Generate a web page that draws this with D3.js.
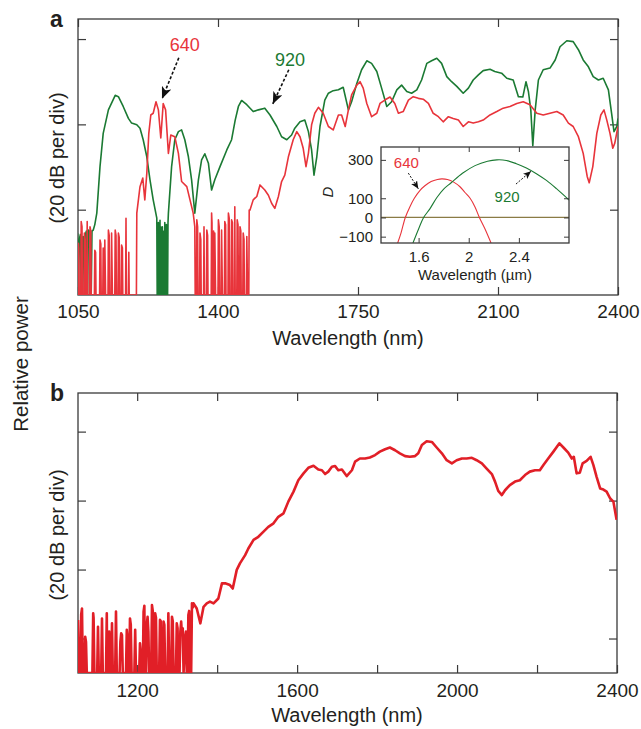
<!DOCTYPE html>
<html>
<head>
<meta charset="utf-8">
<script src="https://cdn.jsdelivr.net/npm/d3@7"></script>
<style>
  body { margin: 0; background: #fff; }
  svg text { font-family: "Liberation Sans", Arial, Helvetica, sans-serif; fill: #231f20; }
  .axis path.domain { display: none; }
  .axis line { stroke: #3a3a3a; stroke-width: 1.2; }
  .frame { fill: none; stroke: #3a3a3a; stroke-width: 1.3; }
</style>
</head>
<body>
<div id="fig"></div>
<script>
// ---- panel a : spectra for the 640 and 920 pumps (wavelength nm, relative dB) ----
var specA640 = [
  [1050,0],[1051,12.1],[1052,11],[1053,0],[1057,0],[1058,17.2],[1060,16],[1061,0],[1065,0],[1066,14.5],
  [1068,13],[1069,0],[1072,0],[1073,17.2],[1074,0],[1079,0],[1080,16],[1082,15],[1083,0],[1091,0],
  [1092,10.5],[1094,10],[1095,0],[1104,0],[1105,12.9],[1107,12],[1108,0],[1112,0],[1113,11],[1114,0],
  [1116,0],[1117,12.9],[1119,0],[1125,0],[1126,15.2],[1128,14],[1129,0],[1133,0],[1134,14.5],[1136,0],
  [1142,0],[1143,15.2],[1145,14],[1146,0],[1150,0],[1151,14.5],[1153,13.5],[1154,0],[1158,0],[1159,11.7],
  [1161,11],[1162,0],[1169,0],[1170,18],[1171,0],[1176,0],[1177,10],[1178,0],[1196,0],[1197,19.2],
  [1205,25.4],[1212,27.4],[1217,22.3],[1222,28.5],[1227,37.9],[1232,42.2],[1238,42.6],[1245,45.3],
  [1251,43.4],[1257,36.8],[1263,44.9],[1269,43.4],[1276,33.2],[1282,37.5],[1292,37.1],[1301,33.2],
  [1309,26.6],[1322,25.4],[1330,22.3],[1338,19.2],[1342,16],[1343,0],[1346,0],[1347,17.6],[1349,16],
  [1350,0],[1354,0],[1355,14.5],[1357,13],[1358,0],[1364,0],[1365,16],[1366,0],[1371,0],[1372,15.2],
  [1374,14],[1375,0],[1383,0],[1384,19.2],[1385,17],[1386,0],[1388,0],[1389,15],[1390,0],[1391,0],
  [1392,14.5],[1394,0],[1400,0],[1401,17.6],[1403,16],[1404,0],[1408,0],[1409,15.2],[1411,0],[1416,0],
  [1417,17.2],[1419,16.5],[1420,0],[1425,0],[1426,19.2],[1428,18],[1429,0],[1433,0],[1434,17.6],[1436,17],
  [1437,0],[1441,0],[1442,20.7],[1443,0],[1447,0],[1448,17.6],[1450,16.5],[1451,0],[1454,0],[1455,16],
  [1457,15],[1458,0],[1462,0],[1463,14.5],[1465,13],[1466,0],[1471,0],[1472,13.7],[1474,0],[1477,0],
  [1478,19.9],[1480,19.9],[1488,22.3],[1497,23.1],[1505,25.8],[1517,24.6],[1526,23.4],[1534,21.5],
  [1542,20.3],[1551,23.1],[1559,26.6],[1567,28.1],[1576,32.4],[1588,36.4],[1597,38.3],[1605,37.1],
  [1613,34.4],[1620,30.1],[1626,33.2],[1634,39.9],[1642,42.6],[1651,44.0],[1663,42.6],[1676,39.5],
  [1688,38.7],[1701,42.2],[1709,42.2],[1718,39.5],[1726,43.4],[1734,46.9],[1747,49.2],[1755,50.0],
  [1763,48.5],[1772,44.9],[1784,41.8],[1797,42.6],[1805,44.9],[1817,45.7],[1830,46.4],[1842,44.9],
  [1851,42.6],[1863,43.0],[1876,45.7],[1888,46.5],[1901,46.1],[1913,45.9],[1926,44.9],[1938,42.6],
  [1951,41.8],[1963,40.6],[1976,41.8],[1988,41.4],[2001,41.0],[2013,39.5],[2026,40.6],[2038,40.3],
  [2051,40.6],[2063,41.0],[2080,42.2],[2097,43.0],[2113,43.8],[2130,44.2],[2147,44.9],[2163,45.3],
  [2180,44.6],[2197,42.6],[2213,42.2],[2230,42.6],[2247,43.0],[2263,42.2],[2276,40.3],[2288,39.5],
  [2301,37.1],[2313,33.2],[2323,27.8],[2328,26.3],[2337,30.1],[2347,37.9],[2357,42.2],[2365,43.4],
  [2372,41.0],[2380,37.9],[2387,34.4],[2392,35.6],[2400,39.5]
];
var specA920 = [
  [1049,14.5],[1051,0],[1053,13],[1056,14.2],[1058,0],[1060,13.5],[1063,13.7],[1066,0],[1068,14],
  [1071,15],[1074,0],[1076,15.2],[1080,14.8],[1083,0],[1085,15],[1088,15.2],[1092,16.5],[1097,19.2],
  [1105,30.1],[1113,37.9],[1126,43.4],[1143,46.8],[1151,46.5],[1163,44.2],[1176,41.4],[1184,40.3],
  [1197,39.9],[1205,39.1],[1213,36.4],[1222,32.4],[1230,27.0],[1238,22.3],[1247,18],[1248,0],
  [1249,16.5],[1250,0],[1251,17],[1252,0],[1253,15],[1254,0],[1255,17.5],[1256,0],[1257,16],[1258,0],
  [1259,14],[1260,0],[1261,16],[1262,0],[1263,12],[1264,0],[1265,15],[1266,0],[1267,17],[1268,0],
  [1269,14],[1270,0],[1271,16.5],[1272,0],[1273,15],[1274,0],[1275,17],[1276,19.2],[1284,30.1],
  [1292,36.4],[1301,38.3],[1309,38.7],[1317,36.4],[1326,32.4],[1334,27.0],[1342,19.2],[1351,27.0],
  [1359,31.7],[1367,33.1],[1376,30.9],[1384,24.6],[1392,27.0],[1405,30.1],[1422,34.0],[1434,36.4],
  [1443,41.0],[1451,44.2],[1459,45.6],[1472,44.6],[1488,43.0],[1501,43.4],[1517,43.8],[1530,42.2],
  [1547,39.5],[1559,37.1],[1572,36.4],[1584,37.5],[1592,39.1],[1605,40.6],[1617,41.0],[1626,38.3],
  [1634,34.0],[1640,28.1],[1647,32.4],[1655,39.5],[1667,45.7],[1676,47.3],[1688,47.9],[1701,48.1],
  [1713,48.7],[1726,43.4],[1734,45.3],[1747,49.6],[1759,52.8],[1772,54.9],[1784,54.3],[1797,52.4],
  [1809,48.5],[1822,44.2],[1834,45.3],[1847,48.1],[1859,49.2],[1872,47.7],[1884,47.3],[1897,48.1],
  [1909,50.4],[1922,54.3],[1934,54.9],[1947,55.5],[1959,54.3],[1972,51.2],[1984,50.0],[1997,48.9],
  [2013,47.3],[2026,48.5],[2038,50.4],[2051,51.6],[2063,52.6],[2080,52.9],[2092,52.4],[2109,52.0],
  [2122,50.8],[2138,50.4],[2151,46.5],[2162,46.4],[2170,50.0],[2176,47.7],[2182,43.4],[2187,35],
  [2193,43.4],[2201,50.4],[2213,52.8],[2230,53.2],[2243,55.1],[2255,58.2],[2272,59.6],[2288,59.4],
  [2301,57.5],[2313,55.1],[2326,53.5],[2338,51.2],[2351,50.4],[2363,50.8],[2376,48.1],[2384,42.6],
  [2390,38.3],[2397,39.5],[2400,41.4]
];

// ---- panel b : single spectrum ----
var specB = [
  [1052,15.4],[1054,0],[1058,0],[1060,17],[1062,18.7],[1064,0],[1068,0],[1070,10.5],[1072,9],[1074,0],
  [1088,0],[1090,17.3],[1091,16],[1093,0],[1100,0],[1102,13.4],[1104,0],[1110,0],[1112,15.8],[1114,0],
  [1122,0],[1124,17.3],[1125,0],[1128,0],[1130,12],[1131,0],[1135,0],[1137,14.4],[1139,0],[1145,0],
  [1147,17.8],[1149,0],[1156,0],[1158,9],[1160,11.5],[1162,11],[1164,0],[1172,0],[1174,12.5],[1176,10],
  [1178,0],[1180,0],[1182,15.8],[1184,14],[1186,0],[1193,0],[1195,12.5],[1197,0],[1205,0],[1207,8.6],
  [1209,6],[1211,0],[1214,0],[1216,17.8],[1218,19.5],[1219,0],[1222,0],[1224,14],[1226,16.3],[1228,12],
  [1230,0],[1235,0],[1237,19.7],[1239,18],[1241,0],[1243,0],[1245,17.3],[1247,16],[1249,0],[1255,0],
  [1257,15.4],[1259,15],[1261,0],[1264,0],[1266,14.9],[1268,14],[1270,0],[1276,0],[1278,17.3],[1280,0],
  [1285,0],[1287,16.3],[1289,15],[1291,0],[1297,0],[1299,14.4],[1301,13],[1303,0],[1306,0],[1308,12],
  [1310,14.9],[1312,11],[1314,13],[1316,0],[1320,10.5],[1322,12],[1324,0],[1326,0],[1328,16.8],[1330,18],
  [1332,0],[1335,0],[1337,20.2],[1339,19],[1341,20.2],[1349,18.7],[1358,14.4],[1366,19.2],[1374,20.2],
  [1382,20.7],[1391,20.2],[1403,21.6],[1412,26.0],[1420,26.0],[1432,25.5],[1439,24.5],[1449,29.9],
  [1457,31.8],[1470,34.2],[1478,36.1],[1491,38.6],[1503,39.5],[1516,41.0],[1528,42.4],[1541,43.4],
  [1553,45.3],[1566,46.3],[1578,49.7],[1591,52.6],[1603,55.9],[1616,57.9],[1628,59.5],[1641,60.1],
  [1653,59.0],[1662,58.8],[1670,57.7],[1678,58.4],[1687,59.8],[1695,60.0],[1703,58.8],[1712,59.0],
  [1724,57.1],[1737,58.8],[1745,61.3],[1757,62.2],[1770,62.2],[1782,62.5],[1795,63.2],[1807,64.2],
  [1820,64.9],[1832,65.4],[1845,64.6],[1857,63.7],[1870,62.9],[1882,62.7],[1895,62.9],[1903,63.7],
  [1912,66.1],[1924,67.2],[1937,67.0],[1949,65.4],[1962,63.7],[1974,61.7],[1987,60.8],[1999,61.7],
  [2012,62.2],[2024,62.2],[2037,62.4],[2049,61.7],[2062,60.8],[2074,59.3],[2087,57.7],[2095,55.5],
  [2103,52.8],[2112,51.6],[2120,53.0],[2132,54.5],[2145,55.5],[2157,55.9],[2170,57.4],[2182,58.4],
  [2195,58.8],[2207,58.8],[2216,60.3],[2228,62.2],[2241,64.2],[2256,66.6],[2266,65.4],[2278,63.9],
  [2287,62.2],[2292,62.7],[2299,57.9],[2307,58.1],[2314,60.8],[2324,61.5],[2334,62.7],[2341,60.3],
  [2349,56.9],[2358,53.5],[2366,53.2],[2374,52.6],[2383,50.6],[2391,49.7],[2399,44.4]
];

// ---- inset : dispersion D vs wavelength (um) ----
var disp640 = [
  [1.433,-133],[1.46,-80],[1.494,0],[1.53,55],[1.566,100],[1.61,140],[1.65,165],[1.70,187],[1.75,198],
  [1.786,201],[1.83,198],[1.88,184],[1.93,160],[1.97,130],[2.011,100],[2.05,55],[2.085,0],[2.13,-60],[2.178,-133]
];
var disp920 = [
  [1.555,-133],[1.60,-60],[1.64,0],[1.69,45],[1.746,104],[1.80,148],[1.86,181],[1.95,230],[2.05,270],
  [2.15,293],[2.224,300],[2.30,297],[2.38,280],[2.46,258],[2.54,228],[2.62,193],[2.70,150],[2.80,91]
];
var zeroLine = [[1.3,0],[2.8,0]];

// ticks
var ticksAx = [1050, 1400, 1750, 2100, 2400];
var ticksAy = [20, 40, 60];
var ticksBx = [1200, 1400, 1600, 1800, 2000, 2200, 2400];
var labelsBx = [1200, 1600, 2000, 2400];
var ticksBy = [10, 30, 50, 70];
var ticksInsetX = [1.6, 2.0, 2.4];
var ticksInsetY = [300, 100, 0, -100];

var red = "#e8343b", green = "#1b7a33", redB = "#e11f27";

var svg = d3.select("#fig").append("svg").attr("width", 641).attr("height", 729);
var defs = svg.append("defs");

// arrowheads
function addMarker(id, len, wid) {
    defs.append("marker")
        .attr("id", id)
        .attr("markerUnits", "userSpaceOnUse")
        .attr("viewBox", "0 0 " + len + " " + wid)
        .attr("refX", len).attr("refY", wid / 2)
        .attr("markerWidth", len).attr("markerHeight", wid)
        .attr("orient", "auto")
        .append("path")
        .attr("d", "M0,0L" + len + "," + (wid / 2) + "L0," + wid + "L" + (len * 0.25) + "," + (wid / 2) + "Z")
        .attr("fill", "#111");
}
addMarker("headBig", 12, 10);
addMarker("headSmall", 8, 7);

function addClip(id, box) {
    defs.append("clipPath").attr("id", id).append("rect")
        .attr("x", box.left).attr("y", box.top)
        .attr("width", box.right - box.left).attr("height", box.bottom - box.top);
}

// draws ticks on all four sides pointing inward plus the frame
function addAxes(g, box, x, y, o) {
    var fmtX = function(d) { return o.xLabels.indexOf(d) >= 0 ? d3.format("")(d) : ""; };
    var fmtY = function(d) { return o.yLabels ? (d < 0 ? "\u2212" + Math.abs(d) : d) : ""; };
    var sets = [
        [d3.axisBottom(x).tickValues(o.xTicks).tickFormat(fmtX), "translate(0," + box.bottom + ")"],
        [d3.axisTop(x).tickValues(o.xTicks).tickFormat(""), "translate(0," + box.top + ")"],
        [d3.axisLeft(y).tickValues(o.yTicks).tickFormat(fmtY), "translate(" + box.left + ",0)"],
        [d3.axisRight(y).tickValues(o.yTicks).tickFormat(""), "translate(" + box.right + ",0)"]
    ];
    sets.forEach(function(s) {
        g.append("g").attr("class", "axis")
            .attr("transform", s[1])
            .call(s[0].tickSize(-o.tick).tickSizeOuter(0).tickPadding(o.pad))
            .attr("font-size", o.font).attr("font-family", null);
    });
    g.append("rect").attr("class", "frame")
        .attr("x", box.left).attr("y", box.top)
        .attr("width", box.right - box.left).attr("height", box.bottom - box.top);
}

function arrow(g, x, y, from, to, marker, width, dash) {
    g.append("line")
        .attr("x1", x(from[0])).attr("y1", y(from[1]))
        .attr("x2", x(to[0])).attr("y2", y(to[1]))
        .attr("stroke", "#111").attr("stroke-width", width)
        .attr("stroke-dasharray", dash)
        .attr("marker-end", "url(#" + marker + ")");
}

// ================= panel a =================
var boxA = {left: 78, right: 618, top: 19, bottom: 295};
var xA = d3.scaleLinear().domain([1050, 2400]).range([boxA.left, boxA.right]);
var yA = d3.scaleLinear().domain([0, 64.7]).range([boxA.bottom, boxA.top]);
addClip("clipA", boxA);
var gA = svg.append("g");

addAxes(gA, boxA, xA, yA, {xTicks: ticksAx, xLabels: ticksAx, yTicks: ticksAy, yLabels: false, tick: 8, pad: 10, font: 19});

var lineA = d3.line().x(function(d) { return xA(d[0]); }).y(function(d) { return yA(d[1]); });
var plotA = gA.append("g").attr("clip-path", "url(#clipA)");
plotA.append("path").datum(specA920).attr("d", lineA)
    .attr("fill", "none").attr("stroke", green).attr("stroke-width", 1.6).attr("stroke-linejoin", "round");
plotA.append("path").datum(specA640).attr("d", lineA)
    .attr("fill", "none").attr("stroke", red).attr("stroke-width", 1.6).attr("stroke-linejoin", "round");

// labels + arrows on the main plot
gA.append("text").attr("x", xA(1317)).attr("y", yA(57.2)).attr("text-anchor", "middle")
    .attr("font-size", 18).style("fill", red).text("640");
gA.append("text").attr("x", xA(1580)).attr("y", yA(53.7)).attr("text-anchor", "middle")
    .attr("font-size", 18).style("fill", green).text("920");
arrow(gA, xA, yA, [1302, 55.6], [1260, 46], "headBig", 1.6, "3,2");
arrow(gA, xA, yA, [1577, 52.8], [1537, 44.8], "headBig", 1.6, "3,2");

// inset
var boxI = {left: 381, right: 569, top: 147, bottom: 243};
var xI = d3.scaleLinear().domain([1.3, 2.8]).range([boxI.left, boxI.right]);
var yI = d3.scaleLinear().domain([-133, 367]).range([boxI.bottom, boxI.top]);
addClip("clipI", boxI);
var gI = svg.append("g");
gI.append("rect").attr("x", boxI.left).attr("y", boxI.top)
    .attr("width", boxI.right - boxI.left).attr("height", boxI.bottom - boxI.top).attr("fill", "#fff");

var lineI = d3.line().curve(d3.curveCatmullRom)
    .x(function(d) { return xI(d[0]); }).y(function(d) { return yI(d[1]); });
var plotI = gI.append("g").attr("clip-path", "url(#clipI)");
plotI.append("path").datum(zeroLine).attr("d", lineI)
    .attr("fill", "none").attr("stroke", "#8a7b45").attr("stroke-width", 1.3);
plotI.append("path").datum(disp640).attr("d", lineI)
    .attr("fill", "none").attr("stroke", red).attr("stroke-width", 1.1);
plotI.append("path").datum(disp920).attr("d", lineI)
    .attr("fill", "none").attr("stroke", green).attr("stroke-width", 1.1);

addAxes(gI, boxI, xI, yI, {xTicks: ticksInsetX, xLabels: ticksInsetX, yTicks: ticksInsetY, yLabels: true, tick: 5, pad: 8, font: 15});
gI.selectAll(".axis line").style("stroke-width", 1);

gI.append("text").attr("x", xI(1.502)).attr("y", yI(256)).attr("text-anchor", "middle")
    .attr("font-size", 15).style("fill", red).text("640");
gI.append("text").attr("x", xI(2.306)).attr("y", yI(82)).attr("text-anchor", "middle")
    .attr("font-size", 15).style("fill", green).text("920");
arrow(gI, xI, yI, [1.518, 231], [1.598, 149], "headSmall", 1, "2,1.5");
arrow(gI, xI, yI, [2.377, 174], [2.497, 241], "headSmall", 1, "2,1.5");

gI.append("text").attr("x", (boxI.left + boxI.right) / 2).attr("y", 280)
    .attr("text-anchor", "middle").attr("font-size", 15).text("Wavelength (\u00b5m)");
gI.append("text").attr("transform", "translate(333,192) rotate(-90)")
    .attr("text-anchor", "middle").attr("font-size", 15).attr("font-style", "italic").text("D");

// ================= panel b =================
var boxB = {left: 78, right: 617, top: 393, bottom: 673};
var xB = d3.scaleLinear().domain([1052, 2400]).range([boxB.left, boxB.right]);
var yB = d3.scaleLinear().domain([0, 81.2]).range([boxB.bottom, boxB.top]);
addClip("clipB", boxB);
var gB = svg.append("g");
addAxes(gB, boxB, xB, yB, {xTicks: ticksBx, xLabels: labelsBx, yTicks: ticksBy, yLabels: false, tick: 8, pad: 11, font: 19});

var lineB = d3.line().x(function(d) { return xB(d[0]); }).y(function(d) { return yB(d[1]); });
gB.append("g").attr("clip-path", "url(#clipB)")
    .append("path").datum(specB).attr("d", lineB)
    .attr("fill", "none").attr("stroke", redB).attr("stroke-width", 2.6).attr("stroke-linejoin", "round");

// ================= titles =================
svg.append("text").attr("x", 348).attr("y", 345).attr("text-anchor", "middle").attr("font-size", 20).text("Wavelength (nm)");
svg.append("text").attr("x", 347).attr("y", 722).attr("text-anchor", "middle").attr("font-size", 20).text("Wavelength (nm)");
svg.append("text").attr("transform", "translate(64,158) rotate(-90)").attr("text-anchor", "middle").attr("font-size", 20).text("(20 dB per div)");
svg.append("text").attr("transform", "translate(64,535) rotate(-90)").attr("text-anchor", "middle").attr("font-size", 20).text("(20 dB per div)");
svg.append("text").attr("transform", "translate(28,364) rotate(-90)").attr("text-anchor", "middle").attr("font-size", 20.5).text("Relative power");
svg.append("text").attr("x", 50).attr("y", 27).attr("font-size", 23).attr("font-weight", "bold").text("a");
svg.append("text").attr("x", 50).attr("y", 401).attr("font-size", 23).attr("font-weight", "bold").text("b");
</script>
</body>
</html>
